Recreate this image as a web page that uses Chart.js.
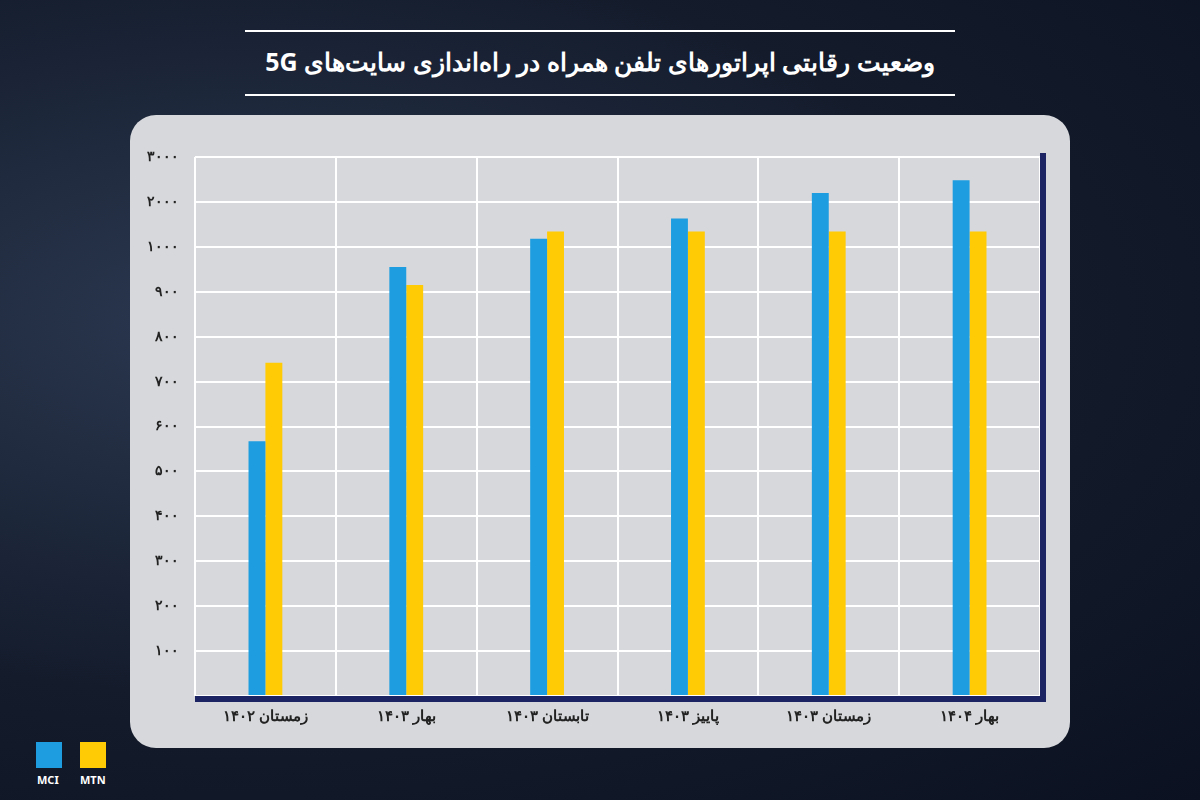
<!DOCTYPE html>
<html><head><meta charset="utf-8">
<script src="https://cdn.jsdelivr.net/npm/chart.js@4"></script>
<style>
body{margin:0;width:1200px;height:800px;overflow:hidden;font-family:"Noto Sans",sans-serif;
background:radial-gradient(ellipse at 20% 40%,#2b3850 0%,#141c2c 55%,#0b1120 100%);position:relative}
#title{position:absolute;left:245px;width:710px;top:30px;height:62px;border-top:2px solid #fff;border-bottom:2px solid #fff;
color:#fff;font-weight:bold;font-size:25px;text-align:center;line-height:58px;direction:rtl}
#panel{position:absolute;left:130px;top:115px;width:940px;height:633px;background:#d6d8db;border-radius:26px}
#wrap{position:absolute;left:130px;top:115px;width:940px;height:633px}
.lg{position:absolute;top:742px;width:26px;height:26px}
.lt{position:absolute;top:772px;color:#fff;font-size:11px;font-weight:bold}
</style></head><body>
<div id="title">وضعیت رقابتی اپراتورهای تلفن همراه در راه‌اندازی سایت‌های 5G</div>
<div id="panel"></div>
<div id="wrap"><canvas id="c" width="940" height="633"></canvas></div>
<div class="lg" style="left:36px;background:#1e9ee0"></div>
<div class="lg" style="left:80px;background:#ffcb05"></div>
<div class="lt" style="left:37px">MCI</div>
<div class="lt" style="left:80px">MTN</div>
<script>
const categories = ["زمستان ۱۴۰۲", "بهار ۱۴۰۳", "تابستان ۱۴۰۳", "پاییز ۱۴۰۳", "زمستان ۱۴۰۳", "بهار ۱۴۰۴"];
const mciValues = [567, 955, 1180, 1630, 2200, 2480];
const mtnValues = [742, 915, 1340, 1340, 1340, 1340];
const tickValues = [0, 100, 200, 300, 400, 500, 600, 700, 800, 900, 1000, 2000, 3000];
const tickLabels = ["", "۱۰۰", "۲۰۰", "۳۰۰", "۴۰۰", "۵۰۰", "۶۰۰", "۷۰۰", "۸۰۰", "۹۰۰", "۱۰۰۰", "۲۰۰۰", "۳۰۰۰"];

// axis is piecewise: equal spacing per tick
function toPos(v) {
  for (let i = 1; i < tickValues.length; i++) {
    if (v <= tickValues[i]) return i - 1 + (v - tickValues[i - 1]) / (tickValues[i] - tickValues[i - 1]);
  }
  return tickValues.length - 1;
}

const frame = {
  id: "frame",
  afterDraw(chart) {
    const { ctx, chartArea: a } = chart;
    ctx.save();
    ctx.fillStyle = "#1c2463";
    ctx.fillRect(a.left, a.bottom, a.right - a.left + 6, 6);
    ctx.fillRect(a.right, a.top - 4, 6, a.bottom - a.top + 10);
    ctx.restore();
  }
};

new Chart(document.getElementById("c"), {
  type: "bar",
  data: {
    labels: categories,
    datasets: [
      { label: "MCI", data: mciValues.map(toPos), backgroundColor: "#1e9ee0" },
      { label: "MTN", data: mtnValues.map(toPos), backgroundColor: "#ffcb05" }
    ]
  },
  options: {
    responsive: false, animation: false,
    layout: { padding: { top: 42, right: 30, bottom: 10 } },
    plugins: { legend: { display: false }, tooltip: { enabled: false } },
    datasets: { bar: { categoryPercentage: 0.24, barPercentage: 1 } },
    scales: {
      x: {
        grid: { color: "#ffffff", lineWidth: 2, drawTicks: false },
        border: { display: false },
        ticks: { color: "#222", font: { size: 15, weight: "bold", family: "Noto Sans" }, padding: 12 }
      },
      y: {
        min: 0, max: 12,
        afterFit(s) { s.width = 65; },
        grid: { color: "#ffffff", lineWidth: 2, drawTicks: false },
        border: { display: false },
        ticks: { stepSize: 1, color: "#222", font: { size: 14, weight: "bold", family: "Noto Sans" }, padding: 16,
          callback: v => tickLabels[v] }
      }
    }
  },
  plugins: [frame]
});
</script>
</body></html>
